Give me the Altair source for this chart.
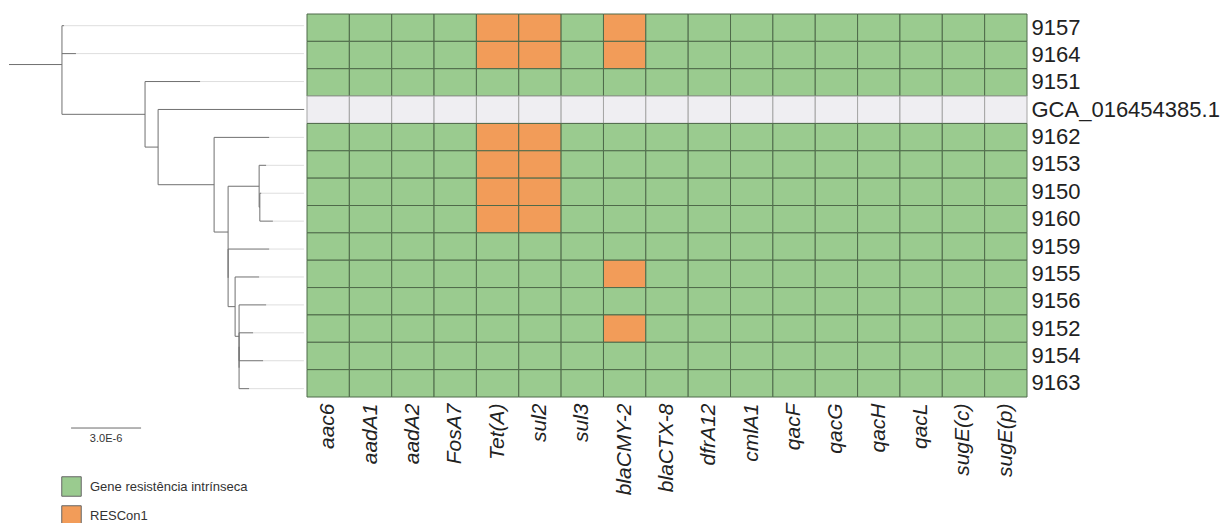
import altair as alt
import pandas as pd

# ---------------- data ----------------
samples = ["9157", "9164", "9151", "GCA_016454385.1", "9162", "9153", "9150",
           "9160", "9159", "9155", "9156", "9152", "9154", "9163"]
genes = ["aac6", "aadA1", "aadA2", "FosA7", "Tet(A)", "sul2", "sul3", "blaCMY-2",
         "blaCTX-8", "dfrA12", "cmlA1", "qacF", "qacG", "qacH", "qacL", "sugE(c)", "sugE(p)"]
status_labels = ["Gene resistência intrínseca", "RESCon1", "sem dados"]
status_colors = ["#9acb8f", "#f29c59", "#efeef2"]
rescon_9157 = ["Tet(A)", "sul2", "blaCMY-2"]
rescon_9164 = ["Tet(A)", "sul2", "blaCMY-2"]
rescon_9162 = ["Tet(A)", "sul2"]
rescon_9153 = ["Tet(A)", "sul2"]
rescon_9150 = ["Tet(A)", "sul2"]
rescon_9160 = ["Tet(A)", "sul2"]
rescon_9155 = ["blaCMY-2"]
rescon_9152 = ["blaCMY-2"]
no_data_samples = ["GCA_016454385.1"]

# tree: node, parent, branch length (units of 1e-6)
tree_nodes = ["A", "9157", "9164", "B", "9151", "C", "GCA_016454385.1", "D", "9162", "E",
              "F", "9153", "F2", "9150", "9160", "E2", "9159", "G", "9155", "H", "9156",
              "H2", "H3", "9152", "9154", "9163"]
tree_parents = [None, "A", "A", "A", "B", "B", "C", "C", "D", "D",
                "E", "F", "F", "F2", "F2", "E", "E2", "E2", "G", "G", "H",
                "H", "H2", "H3", "H3", "H2"]
tree_lengths = [2.27, 0.09, 0.60, 3.56, 2.36, 0.56, 6.26, 2.40, 2.36, 0.60,
                1.33, 0.30, 0.03, 0.06, 0.56, 0.0, 1.76, 0.30, 1.03, 0.17, 1.16,
                0.0, 0.0, 0.60, 1.03, 0.43]
leaf_line_end = 12.64
scale_bar_length = 3.0
scale_bar_label = "3.0E-6"
scale_bar_start = 2.66
scale_bar_row = 14.41

# ---------------- heatmap table ----------------
rescon = {"9157": rescon_9157, "9164": rescon_9164, "9162": rescon_9162,
          "9153": rescon_9153, "9150": rescon_9150, "9160": rescon_9160,
          "9155": rescon_9155, "9152": rescon_9152}
rows = []
for s in samples:
    for g in genes:
        if s in no_data_samples:
            st = status_labels[2]
        elif g in rescon.get(s, []):
            st = status_labels[1]
        else:
            st = status_labels[0]
        rows.append({"sample": s, "gene": g, "status": st})
heat_df = pd.DataFrame(rows)

# ---------------- tree layout ----------------
parent_of = dict(zip(tree_nodes, tree_parents))
length_of = dict(zip(tree_nodes, tree_lengths))
children = {n: [] for n in tree_nodes}
for n, p in zip(tree_nodes, tree_parents):
    if p is not None:
        children[p].append(n)

x_start, x_end = {}, {}
for n in tree_nodes:
    p = parent_of[n]
    x_start[n] = 0.0 if p is None else x_end[p]
    x_end[n] = x_start[n] + length_of[n]

ycoord = {}
def node_y(n):
    if not children[n]:
        ycoord[n] = float(samples.index(n))
    else:
        ys = [node_y(c) for c in children[n]]
        ycoord[n] = sum(ys) / len(ys)
    return ycoord[n]
node_y("A")

segs = []
for n in tree_nodes:
    segs.append({"x": x_start[n], "x2": x_end[n], "y": ycoord[n], "y2": ycoord[n], "kind": "branch"})
    if children[n]:
        cy = [ycoord[c] for c in children[n]]
        segs.append({"x": x_end[n], "x2": x_end[n], "y": min(cy), "y2": max(cy), "kind": "branch"})
    else:
        segs.append({"x": x_end[n], "x2": leaf_line_end, "y": ycoord[n], "y2": ycoord[n], "kind": "guide"})
seg_df = pd.DataFrame(segs)

xs = alt.Scale(domain=[0, 297 / (70 / 3.0)], range=[0, 297], nice=False, zero=False)
ys = alt.Scale(domain=[0, 13], range=[11.7, 11.7 + 13 * 27.92], nice=False, zero=False)

guides = alt.Chart(seg_df).transform_filter("datum.kind == 'guide'").mark_rule(
    color="#dedede", strokeWidth=1).encode(
    x=alt.X("x:Q", scale=xs, axis=None), x2="x2:Q",
    y=alt.Y("y:Q", scale=ys, axis=None), y2="y2:Q")
branches = alt.Chart(seg_df).transform_filter("datum.kind == 'branch'").mark_rule(
    color="#707070", strokeWidth=1).encode(
    x=alt.X("x:Q", scale=xs, axis=None), x2="x2:Q",
    y=alt.Y("y:Q", scale=ys, axis=None), y2="y2:Q")

bar_df = pd.DataFrame({"x": [scale_bar_start], "x2": [scale_bar_start + scale_bar_length],
                       "y": [scale_bar_row], "label": [scale_bar_label]})
bar_rule = alt.Chart(bar_df).mark_rule(color="#6a6a6a", strokeWidth=1).encode(
    x=alt.X("x:Q", scale=xs, axis=None), x2="x2:Q",
    y=alt.Y("y:Q", scale=ys, axis=None))
bar_text = alt.Chart(bar_df).transform_calculate(
    xm="(datum.x + datum.x2) / 2", ym="datum.y + 0.4").mark_text(
    font="Liberation Sans", fontSize=11, color="#333333", baseline="middle", align="center").encode(
    x=alt.X("xm:Q", scale=xs, axis=None),
    y=alt.Y("ym:Q", scale=ys, axis=None),
    text="label:N")

tree = alt.layer(guides, branches, bar_rule, bar_text).properties(width=297, height=505)

heat = alt.Chart(heat_df).mark_rect(strokeWidth=1).encode(
    x=alt.X("gene:N", sort=genes, title=None,
            axis=alt.Axis(orient="bottom", labelAngle=-90, ticks=False, domain=False,
                          labelFont="Liberation Sans", labelFontSize=21, labelFontStyle="italic",
                          labelColor="#222222", labelPadding=6)),
    y=alt.Y("sample:N", sort=samples, title=None,
            axis=alt.Axis(orient="right", ticks=False, domain=False,
                          labelFont="Liberation Sans", labelFontSize=22, labelLimit=400,
                          labelColor="#222222", labelPadding=4)),
    color=alt.Color("status:N", scale=alt.Scale(domain=status_labels, range=status_colors),
                    legend=alt.Legend(title=None, orient="none", legendX=52, legendY=462,
                                      values=status_labels[:2], symbolType="square",
                                      symbolSize=380, symbolStrokeColor="#666666",
                                      symbolStrokeWidth=1, symbolOpacity=1,
                                      labelFont="Liberation Sans", labelFontSize=13,
                                      labelColor="#333333", labelOffset=8, rowPadding=4,
                                      padding=0, labelLimit=400)),
    stroke=alt.condition("datum.status == 'sem dados'", alt.value("#a5a5a5"), alt.value("#4f6a4a")),
).properties(width=720, height=383)

chart = alt.hconcat(tree, heat, spacing=0).properties(
    padding={"left": 0, "top": 5, "right": 0, "bottom": 0}
).configure_view(stroke=None)

chart.save("out.html", embed_options={"renderer": "svg", "actions": False})
